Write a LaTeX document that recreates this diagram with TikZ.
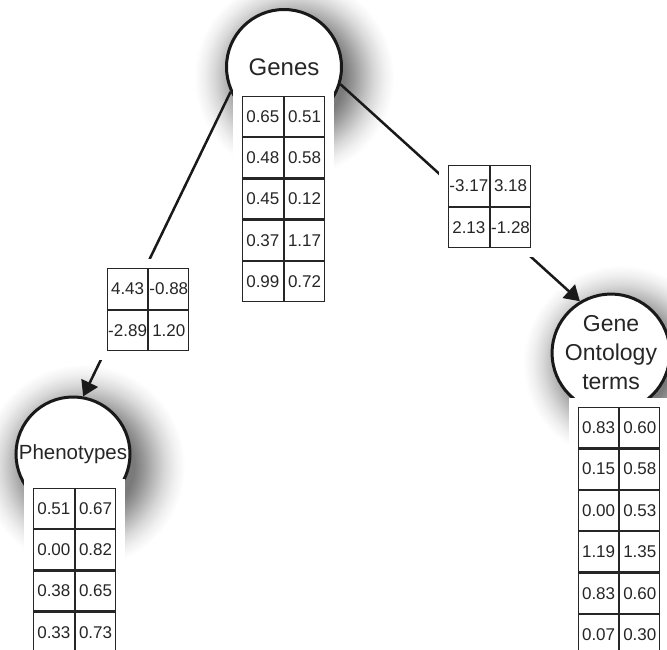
\documentclass[tikz,border=0pt]{standalone}
\usepackage{fontspec}
\setmainfont{Liberation Sans}
\usetikzlibrary{matrix,arrows.meta}
% soft drop shadow: dark core fading out to white at the rim
\pgfdeclareradialshading{softshadow}{\pgfpoint{0bp}{0bp}}{%
  color(0bp)=(black!52); color(12.5bp)=(black!52);
  color(15bp)=(black!40); color(17.5bp)=(black!27);
  color(20bp)=(black!15); color(22.5bp)=(black!6);
  color(25bp)=(white); color(50bp)=(white)}
\begin{document}
\begin{tikzpicture}[x=1pt,y=-1pt,
  entity/.style={circle, draw=black!90, line width=3pt, fill=white,
    inner sep=0pt, outer sep=1.5pt, align=center, text=black!85},
  cell/.style={draw=black!85, line width=1.2pt, minimum width=40.5pt,
    minimum height=40pt, inner sep=0pt, outer sep=0pt,
    font=\fontsize{17}{20}\selectfont, text=black!85},
  tablebox/.style={matrix of nodes, nodes={cell}, column sep=0pt,
    row sep=0pt, inner sep=9pt, outer sep=0pt, fill=white,
    anchor=north west},
  link/.style={line width=2.5pt, draw=black!90},
  tip/.style={-{Triangle[length=15pt,width=18pt]}},
  shadowdisc/.style={shading=softshadow}
]
\fill[white] (0,0) rectangle (667,649);
\useasboundingbox (0,0) rectangle (667,649);

% shadows under the entity circles
\shade[shadowdisc] (294,77) circle (100);
\shade[shadowdisc] (83,466) circle (102);
\shade[shadowdisc] (621,363) circle (98);

% entity circles
\node[entity, minimum size=115pt, font=\fontsize{24}{28}\selectfont]
  (genes) at (284,67) {Genes};
\node[entity, minimum size=114pt, font=\fontsize{20.5}{24}\selectfont]
  (pheno) at (73,454) {Phenotypes};
\node[entity, minimum size=109pt, font=\fontsize{23}{29}\selectfont]
  (go) at (611,353) {Gene\\Ontology\\terms};

% relations
\draw[link,tip] (genes.205) -- (pheno.80);
\draw[link,tip] (genes.343) -- (go.121);

% factor tables
\matrix[tablebox] (gtab) at (233,87) {
  0.65 & 0.51 \\
  0.48 & 0.58 \\
  0.45 & 0.12 \\
  0.37 & 1.17 \\
  0.99 & 0.72 \\
};
\matrix[tablebox] (ptab) at (24,479) {
  0.51 & 0.67 \\
  0.00 & 0.82 \\
  0.38 & 0.65 \\
  0.33 & 0.73 \\
};
\matrix[tablebox, nodes={cell, minimum width=40pt, minimum height=40.2pt}]
  (otab) at (569,398) {
  0.83 & 0.60 \\
  0.15 & 0.58 \\
  0.00 & 0.53 \\
  1.19 & 1.35 \\
  0.83 & 0.60 \\
  0.07 & 0.30 \\
};

% relation weight tables
\matrix[tablebox, nodes={cell, minimum width=40pt, minimum height=40.5pt}]
  (w1) at (98,259) {
  4.43 & -0.88 \\
  -2.89 & 1.20 \\
};
\matrix[tablebox, nodes={cell, minimum width=40.5pt, minimum height=40.5pt}]
  (w2) at (439,156) {
  -3.17 & 3.18 \\
  2.13 & -1.28 \\
};
\end{tikzpicture}
\end{document}
